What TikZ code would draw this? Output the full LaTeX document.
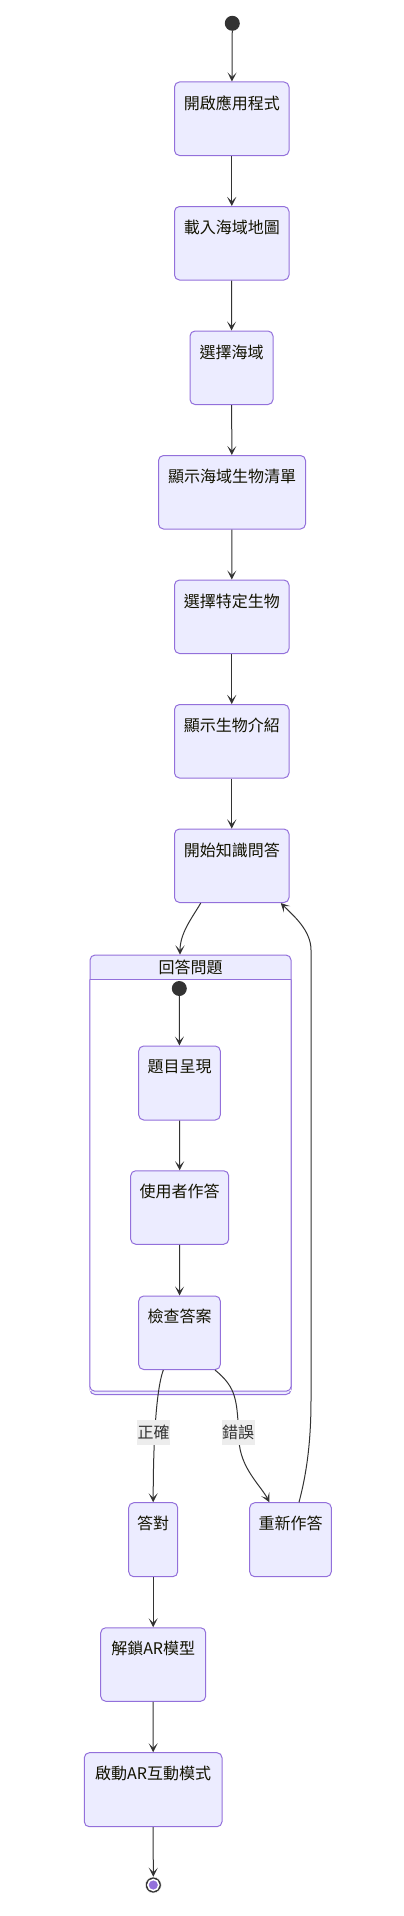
\documentclass[tikz,border=0pt]{standalone}
\usepackage{fontspec}
\newfontfamily\cjk{Noto Sans CJK TC}
\usetikzlibrary{arrows.meta,calc}
\definecolor{boxfill}{HTML}{ECECFF}
\definecolor{boxline}{HTML}{9370DB}
\definecolor{edge}{HTML}{333333}
\definecolor{txtc}{HTML}{131300}
\definecolor{lblbg}{HTML}{EDEDED}
\begin{document}
\begin{tikzpicture}[x=1pt,y=-1pt,
  state/.style={draw=boxline, fill=boxfill, line width=1pt, rounded corners=5pt, rectangle, inner sep=0pt, minimum height=73.5pt},
  txt/.style={font=\cjk\fontsize{16}{19}\selectfont, text=txtc, inner sep=0pt, anchor=center},
  conn/.style={draw=edge, line width=1pt, -{Stealth[length=9pt,width=9pt,inset=4.5pt]}},
  elabel/.style={font=\cjk\fontsize{16}{19}\selectfont, text=edge, fill=lblbg, inner xsep=0.5pt, inner ysep=0pt, minimum height=25pt},
  startst/.style={circle, fill=edge, draw=none, minimum size=15pt, inner sep=0pt}
]
\useasboundingbox (0,0) rectangle (404,1916);

% start
\node[startst] (s0) at (232.3,23.3) {};

% main column
\node[state, minimum width=114.5pt] (b1) at (231.75,118.75) {};
\node[txt] (t1) at ([yshift=-21.5pt]b1.north) {開啟應用程式};
\node[state, minimum width=114.5pt] (b2) at (231.75,243.25) {};
\node[txt] (t2) at ([yshift=-21.5pt]b2.north) {載入海域地圖};
\node[state, minimum width=83pt] (b3) at (231.5,367.75) {};
\node[txt] (t3) at ([yshift=-21.5pt]b3.north) {選擇海域};
\node[state, minimum width=147pt] (b4) at (232,492.25) {};
\node[txt] (t4) at ([yshift=-21.5pt]b4.north) {顯示海域生物清單};
\node[state, minimum width=114.5pt] (b5) at (231.75,616.75) {};
\node[txt] (t5) at ([yshift=-21.5pt]b5.north) {選擇特定生物};
\node[state, minimum width=114.5pt] (b6) at (231.75,741.25) {};
\node[txt] (t6) at ([yshift=-21.5pt]b6.north) {顯示生物介紹};
\node[state, minimum width=114.5pt] (b7) at (231.75,865.75) {};
\node[txt] (t7) at ([yshift=-21.5pt]b7.north) {開始知識問答};

% composite state
\node[draw=boxline, fill=boxfill, line width=1pt, rounded corners=5pt, rectangle, inner sep=0pt,
      minimum width=201pt, minimum height=439.5pt] (comp) at (190.5,1174.75) {};
\node[draw=none, fill=white, rectangle, inner sep=0pt,
      minimum width=201pt, minimum height=411.5pt] (compin) at (190.5,1185.25) {};
\draw[boxline, line width=1pt, rounded corners=5pt] (compin.north west) -- (compin.south west) -- (compin.south east) -- (compin.north east);
\draw[boxline, line width=1pt] (compin.north west) -- (compin.north east);
\node[txt] (tc) at (190.5,967.5) {回答問題};

\node[startst] (s1) at (179.3,988.5) {};
\node[state, minimum width=81.6pt, minimum height=74pt] (q1) at (179.5,1083) {};
\node[txt] (tq1) at ([yshift=-21pt]q1.north) {題目呈現};
\node[state, minimum width=98pt] (q2) at (179.7,1207.5) {};
\node[txt] (tq2) at ([yshift=-21pt]q2.north) {使用者作答};
\node[state, minimum width=81.6pt] (q3) at (179.5,1332.75) {};
\node[txt] (tq3) at ([yshift=-21pt]q3.north) {檢查答案};

% lower part
\node[state, minimum width=49pt, minimum height=74pt] (a1) at (153.2,1539.7) {};
\node[txt] (ta1) at ([yshift=-21pt]a1.north) {答對};
\node[state, minimum width=81.6pt, minimum height=74pt] (a2) at (290.5,1539.7) {};
\node[txt] (ta2) at ([yshift=-21pt]a2.north) {重新作答};
\node[state, minimum width=105pt] (b8) at (153.2,1664.5) {};
\node[txt] (t8) at ([yshift=-21pt]b8.north) {解鎖AR模型};
\node[state, minimum width=137.7pt, minimum height=74pt] (b9) at (153.15,1789.7) {};
\node[txt] (t9) at ([yshift=-21pt]b9.north) {啟動AR互動模式};

% end state
\node[circle, fill=edge, draw=white, line width=0.5pt, minimum size=16pt, inner sep=0pt] (e0) at (153.3,1885) {};
\node[circle, fill=boxline, draw=white, line width=1.5pt, minimum size=11pt, inner sep=0pt] (e1) at (e0.center) {};

% straight connectors
\draw[conn] (s0) -- (b1);
\draw[conn] (b1) -- (b2);
\draw[conn] (b2) -- (b3);
\draw[conn] (b3) -- (b4);
\draw[conn] (b4) -- (b5);
\draw[conn] (b5) -- (b6);
\draw[conn] (b6) -- (b7);
\draw[conn] (s1) -- (q1);
\draw[conn] (q1) -- (q2);
\draw[conn] (q2) -- (q3);
\draw[conn] (a1) -- (b8);
\draw[conn] (b8) -- (b9);
\draw[conn] (b9.south) -- (e0.north);

% curved connectors
\draw[conn] ([xshift=-31pt]b7.south) .. controls +(-8,14) and +(0,-22) .. ([xshift=-10.5pt]comp.north);
\draw[conn] ([xshift=-16.2pt]q3.south) .. controls +(-8,22) and +(0,-50) .. ([xshift=0pt]a1.north);
\draw[conn] ([xshift=35.5pt]q3.south) .. controls +(22,18) and +(-2,-40) .. (239,1440)
  .. controls +(1,28) and +(-8,-16) .. ([xshift=-21.2pt]a2.north);
\draw[conn] ([xshift=8.5pt]a2.north) .. controls +(8,-30) and +(0,40) .. (311,1400)
  -- (311,950) .. controls +(0,-20) and +(12,12) .. ([xshift=49pt]b7.south);

% edge labels
\node[elabel] (l1) at (153.5,1432.5) {正確};
\node[elabel] (l2) at (238,1432.5) {錯誤};
\end{tikzpicture}
\end{document}
